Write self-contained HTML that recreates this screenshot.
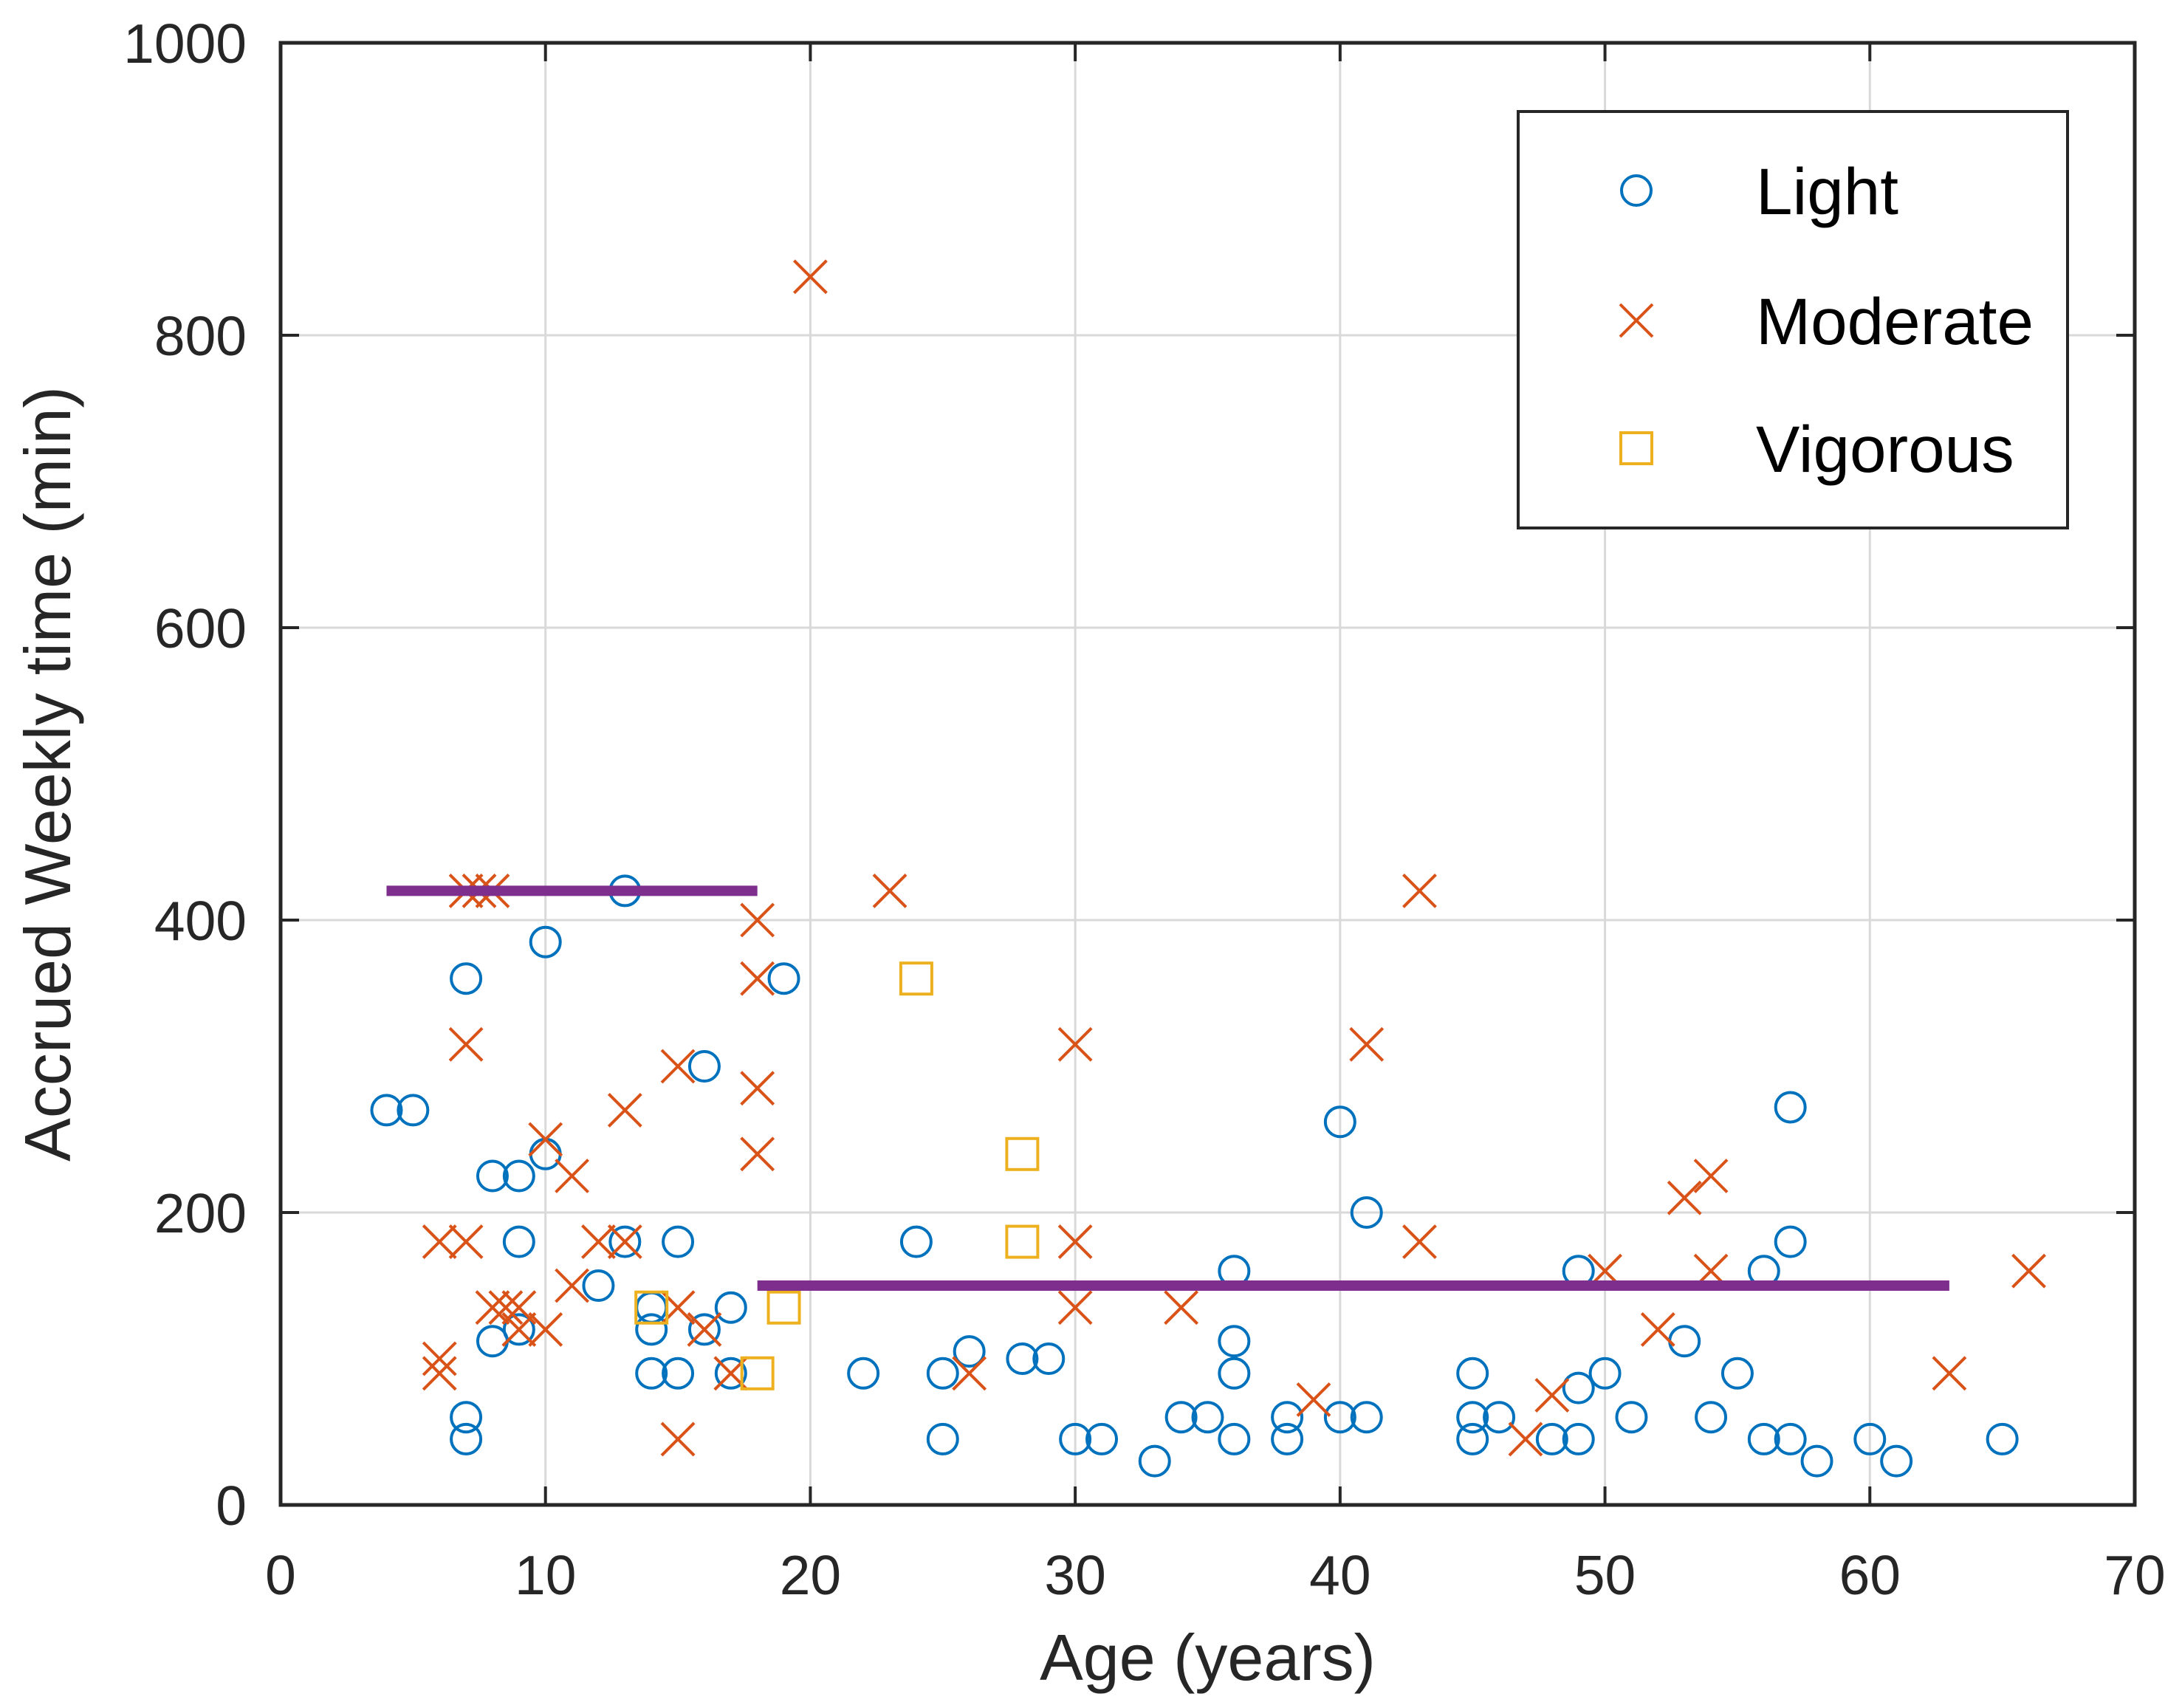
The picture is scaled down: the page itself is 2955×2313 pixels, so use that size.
<!DOCTYPE html>
<html><head><meta charset="utf-8"><style>
html,body{margin:0;padding:0;background:#fff}
svg{display:block;font-family:"Liberation Sans",Arial,sans-serif}
</style></head><body>
<svg id="chart" width="2955" height="2313" viewBox="0 0 2955 2313">
<g id="grid"></g>
<g id="marks"></g>
<g id="axes"></g>
<g id="legend"></g>
</svg>
<script>
const xTicks=[0,10,20,30,40,50,60,70];
const yTicks=[0,200,400,600,800,1000];
const lightAge=[4,5,7,7,7,8,8,9,9,9,10,10,12,13,13,14,14,14,15,15,16,16,17,17,19,22,24,25,25,26,28,29,30,31,33,34,35,36,36,36,36,38,38,40,40,41,41,45,45,45,46,48,49,49,49,50,51,53,54,55,56,56,57,57,57,58,60,61,65];
const lightMin=[270,270,360,60,45,225,112,225,180,120,385,240,150,420,180,135,120,90,180,90,300,120,135,90,360,90,180,90,45,105,100,100,45,45,30,60,60,160,112,90,45,60,45,262,60,200,60,90,60,45,60,45,160,80,45,90,60,112,60,90,160,45,272,180,45,30,45,30,45];
const modAge=[6,6,6,7,7,7,7.5,8,8,8.5,9,9,10,10,11,11,12,13,13,15,15,15,16,17,18,18,18,18,20,23,26,30,30,30,34,39,41,43,43,47,48,50,52,53,54,54,63,66];
const modMin=[100,90,180,420,315,180,420,420,135,135,120,135,120,250,225,150,180,270,180,300,135,45,120,90,400,360,285,240,840,420,90,315,180,135,135,72,315,420,180,45,75,160,120,210,225,160,90,160];
const vigAge=[14,18,19,24,28,28];
const vigMin=[135,90,135,360,240,180];
const lineStart=[4,18];
const lineEnd=[18,63];
const lineVal=[420,150];

const NS="http://www.w3.org/2000/svg";
const L=380,R=2891,T=58,B=2038;
const sx=v=>L+(v-0)/(70-0)*(R-L);
const sy=v=>B-(v-0)/(1000-0)*(B-T);
function mk(tag,attrs,parent){const e=document.createElementNS(NS,tag);for(const k in attrs)e.setAttribute(k,attrs[k]);parent.appendChild(e);return e;}
const grid=document.getElementById('grid'),marks=document.getElementById('marks'),axes=document.getElementById('axes'),legend=document.getElementById('legend');

xTicks.forEach(t=>{
  const g=mk('line',{x1:sx(t),x2:sx(t),y1:T,y2:B,stroke:'#d9d9d9','stroke-width':3},grid);
  
  
  const a=mk('line',{x1:sx(t),x2:sx(t),y1:B,y2:B-25,stroke:'#262626','stroke-width':4},axes);
  
  
  const b=mk('line',{x1:sx(t),x2:sx(t),y1:T,y2:T+25,stroke:'#262626','stroke-width':4},axes);
  
  
  const tx=mk('text',{x:sx(t),y:2159,'font-size':75,'text-anchor':'middle',fill:'#262626'},axes);
  tx.textContent=t;
  
  
});
yTicks.forEach(t=>{
  const g=mk('line',{x1:L,x2:R,y1:sy(t),y2:sy(t),stroke:'#d9d9d9','stroke-width':3},grid);
  
  
  const a=mk('line',{x1:L,x2:L+25,y1:sy(t),y2:sy(t),stroke:'#262626','stroke-width':4},axes);
  
  
  const b=mk('line',{x1:R,x2:R-25,y1:sy(t),y2:sy(t),stroke:'#262626','stroke-width':4},axes);
  
  
  const tx=mk('text',{x:334,y:sy(t)+27,'font-size':75,'text-anchor':'end',fill:'#262626'},axes);
  tx.textContent=t;
  
  
});
const frame=mk('rect',{x:L,y:T,width:R-L,height:B-T,fill:'none',stroke:'#262626','stroke-width':5},axes);


const xt=mk('text',{x:(L+R)/2,y:2275,'font-size':88,'text-anchor':'middle',fill:'#262626'},axes);
xt.textContent='Age (years)';


const yt=mk('text',{x:0,y:0,'font-size':88,'text-anchor':'middle',fill:'#262626',transform:'translate(95,'+((T+B)/2)+') rotate(-90)'},axes);
yt.textContent='Accrued Weekly time (min)';



function circle(x,y,p){return mk('circle',{cx:x,cy:y,r:20,fill:'none',stroke:'#0072BD','stroke-width':4},p);}
function cross(x,y,p){return mk('path',{d:`M${x-22},${y-22}L${x+22},${y+22}M${x-22},${y+22}L${x+22},${y-22}`,fill:'none',stroke:'#D95319','stroke-width':4},p);}
function square(x,y,p){return mk('rect',{x:x-21,y:y-21,width:42,height:42,fill:'none',stroke:'#EDB120','stroke-width':4},p);}

lightAge.forEach((a,i)=>{const e=circle(sx(a),sy(lightMin[i]),marks);
  
  });
modAge.forEach((a,i)=>{const e=cross(sx(a),sy(modMin[i]),marks);
  
  });
vigAge.forEach((a,i)=>{const e=square(sx(a),sy(vigMin[i]),marks);
  
  });
lineStart.forEach((s,i)=>{const e=mk('line',{x1:sx(s),x2:sx(lineEnd[i]),y1:sy(lineVal[i]),y2:sy(lineVal[i]),stroke:'#7E2F8E','stroke-width':14},marks);
  
  });

const lb=mk('rect',{x:2056,y:151,width:744,height:564,fill:'#fff',stroke:'#262626','stroke-width':4},legend);


const entries=[['Light',circle,258],['Moderate',cross,434],['Vigorous',square,607]];
entries.forEach(en=>{
  const m=en[1](2216,en[2],legend);
  
  
  const t=mk('text',{x:2378,y:en[2]+32,'font-size':89,fill:'#000'},legend);
  t.textContent=en[0];
  
  
});
</script>
</body></html>
